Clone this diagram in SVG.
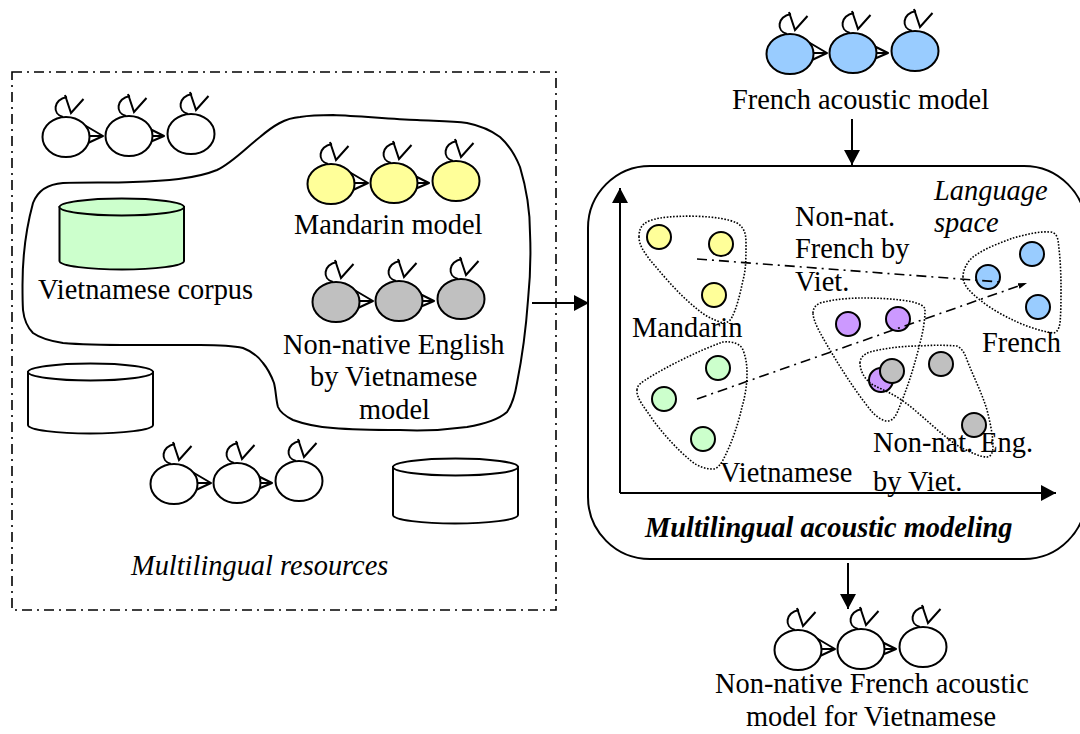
<svg xmlns="http://www.w3.org/2000/svg" xmlns:xlink="http://www.w3.org/1999/xlink" width="1080" height="734" viewBox="0 0 1080 734">
<style>
text{font-family:"Liberation Serif","Times New Roman",serif;font-size:28.4px;fill:#000}
.it{font-style:italic}
.bi{font-style:italic;font-weight:bold}
.s{fill:none;stroke:#000;stroke-width:2}
.st{fill:#fff;stroke:#000;stroke-width:2;stroke-linejoin:round}
.e{stroke:#000;stroke-width:2}
.dot{fill:none;stroke:#000;stroke-width:1.6;stroke-dasharray:1.6 1.6}
.dd{fill:none;stroke:#000;stroke-width:1.6;stroke-dasharray:10 5 2 5}
.pt{stroke:#000;stroke-width:2}
.y{fill:#ffff99}.g{fill:#ccffcc}.b{fill:#99ccff}.p{fill:#cc99ff}.k{fill:#c0c0c0}
</style>
<defs>
<marker id="ah" markerUnits="userSpaceOnUse" markerWidth="16" markerHeight="16" refX="15" refY="8" orient="auto"><path d="M0 0L15 8L0 16Z" fill="#000"/></marker>
<marker id="ah2" markerUnits="userSpaceOnUse" markerWidth="10" markerHeight="8" refX="9" refY="4" orient="auto"><path d="M0 1L9 4L0 7Z" fill="#000"/></marker>
<g id="lp">
<path class="s" d="M-3 -20C-14 -23 -13 -37 1 -40"/>
<path class="s" d="M-1 -42L5 -24L17.500 -38"/>
</g>
<g id="hmm">
<use xlink:href="#lp" href="#lp"/>
<path class="st" d="M20 -11L37 -1L22 6Z"/>
<path class="s" d="M23 -1L37 -1"/>
<ellipse class="e" rx="23.500" ry="20"/>
<g transform="translate(63,-1)">
<use xlink:href="#lp" href="#lp"/>
<path class="st" d="M21 -7L35 0L21 6Z"/>
<path class="s" d="M23 0L35 0"/>
<ellipse class="e" rx="23.500" ry="20"/>
</g>
<g transform="translate(125,-3)">
<use xlink:href="#lp" href="#lp"/>
<ellipse class="e" rx="23.500" ry="20"/>
</g>
</g>
</defs>

<g id="connectors">
<path class="s" d="M852 119V165" marker-end="url(#ah)"/>
<path class="s" d="M532 303H589" marker-end="url(#ah)"/>
<path class="s" d="M848 563V609" marker-end="url(#ah)"/>
</g>

<g id="resources-box">
<rect x="12" y="72" width="544" height="538" fill="none" stroke="#000" stroke-width="1.6" stroke-dasharray="10 5 2 5"/>
<text class="it" x="131" y="575">Multilingual resources</text>
</g>
<g id="selection-blob">
<path class="s" d="M22.500 285C22.500 255 27 225 33 203C38 190 48 184 63 183C85 182 110 183 133 182C165 181 195 179 217 170C232 163 247 147 260 137C273 126 285 118 300 117C312 115 322 115 333 115C360 116 390 119 417 120C435 121 452 121 467 123C482 126 492 131 500 137C510 146 516 157 520 167C526 187 530 210 530 233C531 255 530 280 528 300C526 328 522 358 517 383C515 395 512 405 507 412C498 420 485 424 467 427C445 430 422 431 400 430C378 430 355 430 333 428C318 427 304 424 293 420C285 416 280 412 278 407C276 400 276 391 274 383C271 375 268 369 263 363C258 356 251 351 243 348C230 345 215 345 200 345C178 345 155 345 133 345C110 345 85 345 63 343C50 341 40 338 33 333C27 327 24 319 23 310C22.500 302 22.500 293 22.500 285Z"/>
</g>
<g id="hmm-white-1" fill="#fff"><use xlink:href="#hmm" href="#hmm" x="66" y="137"/></g>
<g id="cyl-corpus">
<path d="M59.500 207V261C59.500 266 90 269.500 122 269.500C154 269.500 184 266 184 261V207Z" fill="#ccffcc" stroke="#000" stroke-width="2"/>
<ellipse cx="121.750" cy="207" rx="62.250" ry="8.500" fill="#ccffcc" stroke="#000" stroke-width="2"/>
<text x="38" y="299">Vietnamese corpus</text>
</g>
<g id="hmm-mandarin" fill="#ffff99"><use xlink:href="#hmm" href="#hmm" x="331" y="184"/><text x="294" y="234">Mandarin model</text></g>
<g id="hmm-nonnative" fill="#c0c0c0"><use xlink:href="#hmm" href="#hmm" x="336" y="302"/>
<text x="283" y="354">Non-native English</text><text x="310" y="386">by Vietnamese</text><text x="359" y="419">model</text></g>
<g id="cyl-2">
<path d="M28 372V425C28 430 58 433.500 90 433.500C122 433.500 153 430 153 425V372Z" fill="#fff" stroke="#000" stroke-width="2"/>
<ellipse cx="90.500" cy="372" rx="62.500" ry="8.500" fill="#fff" stroke="#000" stroke-width="2"/>
</g>
<g id="hmm-white-2" fill="#fff"><use xlink:href="#hmm" href="#hmm" x="174" y="484"/></g>
<g id="cyl-3">
<path d="M393 467V515C393 520 423 523.500 455 523.500C487 523.500 518 520 518 515V467Z" fill="#fff" stroke="#000" stroke-width="2"/>
<ellipse cx="455.500" cy="467" rx="62.500" ry="8.500" fill="#fff" stroke="#000" stroke-width="2"/>
</g>

<g id="hmm-french" fill="#99ccff"><use xlink:href="#hmm" href="#hmm" x="790" y="54"/><text x="732" y="109">French acoustic model</text></g>

<g id="modeling-box">
<rect x="588" y="166" width="498" height="393" rx="62" ry="62" fill="none" stroke="#000" stroke-width="2"/>
<path class="s" d="M620 493V188" marker-end="url(#ah)"/>
<path class="s" d="M620 493H1056" marker-end="url(#ah)"/>
<text class="bi" x="645" y="537">Multilingual acoustic modeling</text>
<text class="it" x="934" y="200">Language</text>
<text class="it" x="934" y="232">space</text>
</g>

<g id="cluster-mandarin">
<path class="dot" d="M639 237C639 225 645 221 660 218C680 215 720 215 737 223C745 228 746 235 746 243C746 258 746 270 743 280C740 295 736 310 732 317C730 322 725 324 720 322C708 318 700 312 690 303C675 290 662 274 650 260C644 252 639 245 639 237Z"/>
<circle class="pt y" cx="659" cy="237" r="12"/><circle class="pt y" cx="721" cy="244" r="12"/><circle class="pt y" cx="714" cy="295" r="12"/>
<text x="632" y="337">Mandarin</text>
</g>
<g id="cluster-vietnamese">
<path class="dot" d="M637 390C637 385 642 382 650 377C670 365 700 350 723 342C733 341 741 344 743 350C746 358 747 365 747 373C747 385 745 397 742 407C738 425 731 445 723 460C720 466 716 469 713 469C706 469 698 467 690 460C678 450 664 435 653 420C645 408 636 398 637 390Z"/>
<circle class="pt g" cx="718" cy="368" r="12"/><circle class="pt g" cx="664" cy="399" r="12"/><circle class="pt g" cx="703" cy="439" r="12"/>
<text x="720" y="482">Vietnamese</text>
</g>
<g id="cluster-french">
<path class="dot" d="M963 277C963 270 967 262 973 257C985 248 1000 243 1013 238C1025 235 1038 231 1050 232C1055 232 1057 236 1058 240C1060 255 1061 272 1061 287C1061 300 1061 312 1060 323C1059 330 1056 333 1053 333C1040 331 1025 326 1013 320C1002 315 990 308 980 300C970 292 963 285 963 277Z"/>
<circle class="pt b" cx="1032" cy="254" r="12"/><circle class="pt b" cx="988" cy="277" r="12"/><circle class="pt b" cx="1038" cy="307" r="12"/>
<text x="982" y="352">French</text>
</g>
<g id="cluster-nonfrench">
<circle class="pt p" cx="848" cy="324" r="12"/><circle class="pt p" cx="898" cy="319" r="12"/><circle class="pt p" cx="881" cy="380" r="12"/>
<path class="dot" d="M813 313C813 308 816 305 820 303C835 299 850 298 863 298C880 298 898 299 913 302C920 304 925 306 925 310C925 320 923 332 920 343C914 368 906 392 897 413C894 419 891 421 887 421C883 421 877 417 873 413C858 395 843 372 830 350C823 338 813 322 813 313Z"/>
</g>
<g id="cluster-noneng">
<path class="dot" d="M860 363C860 358 864 354 870 352C885 348 903 346 920 346C933 345 945 345 957 346C962 348 965 354 967 360C974 378 982 393 987 410C990 422 993 435 993 447C993 452 991 457 987 457C980 457 970 452 960 447C940 435 918 410 897 397C887 391 878 388 870 383C864 378 860 370 860 363Z"/>
<circle class="pt k" cx="892" cy="371" r="12"/><circle class="pt k" cx="941" cy="364" r="12"/><circle class="pt k" cx="974" cy="425" r="12"/>
<text x="873" y="452">Non-nat. Eng.</text>
<text x="873" y="491">by Viet.</text>
</g>
<g id="mapping-lines">
<path class="dd" d="M697 259L1000 282"/>
<path class="dd" d="M697 399L1027 283" marker-end="url(#ah2)"/>
</g>
<g id="label-nonfrench"><text x="795" y="226">Non-nat.</text><text x="795" y="258">French by</text><text x="795" y="291">Viet.</text></g>

<g id="hmm-result" fill="#fff"><use xlink:href="#hmm" href="#hmm" x="798" y="650"/>
<text x="715" y="693">Non-native French acoustic</text><text x="746" y="726">model for Vietnamese</text></g>
</svg>
